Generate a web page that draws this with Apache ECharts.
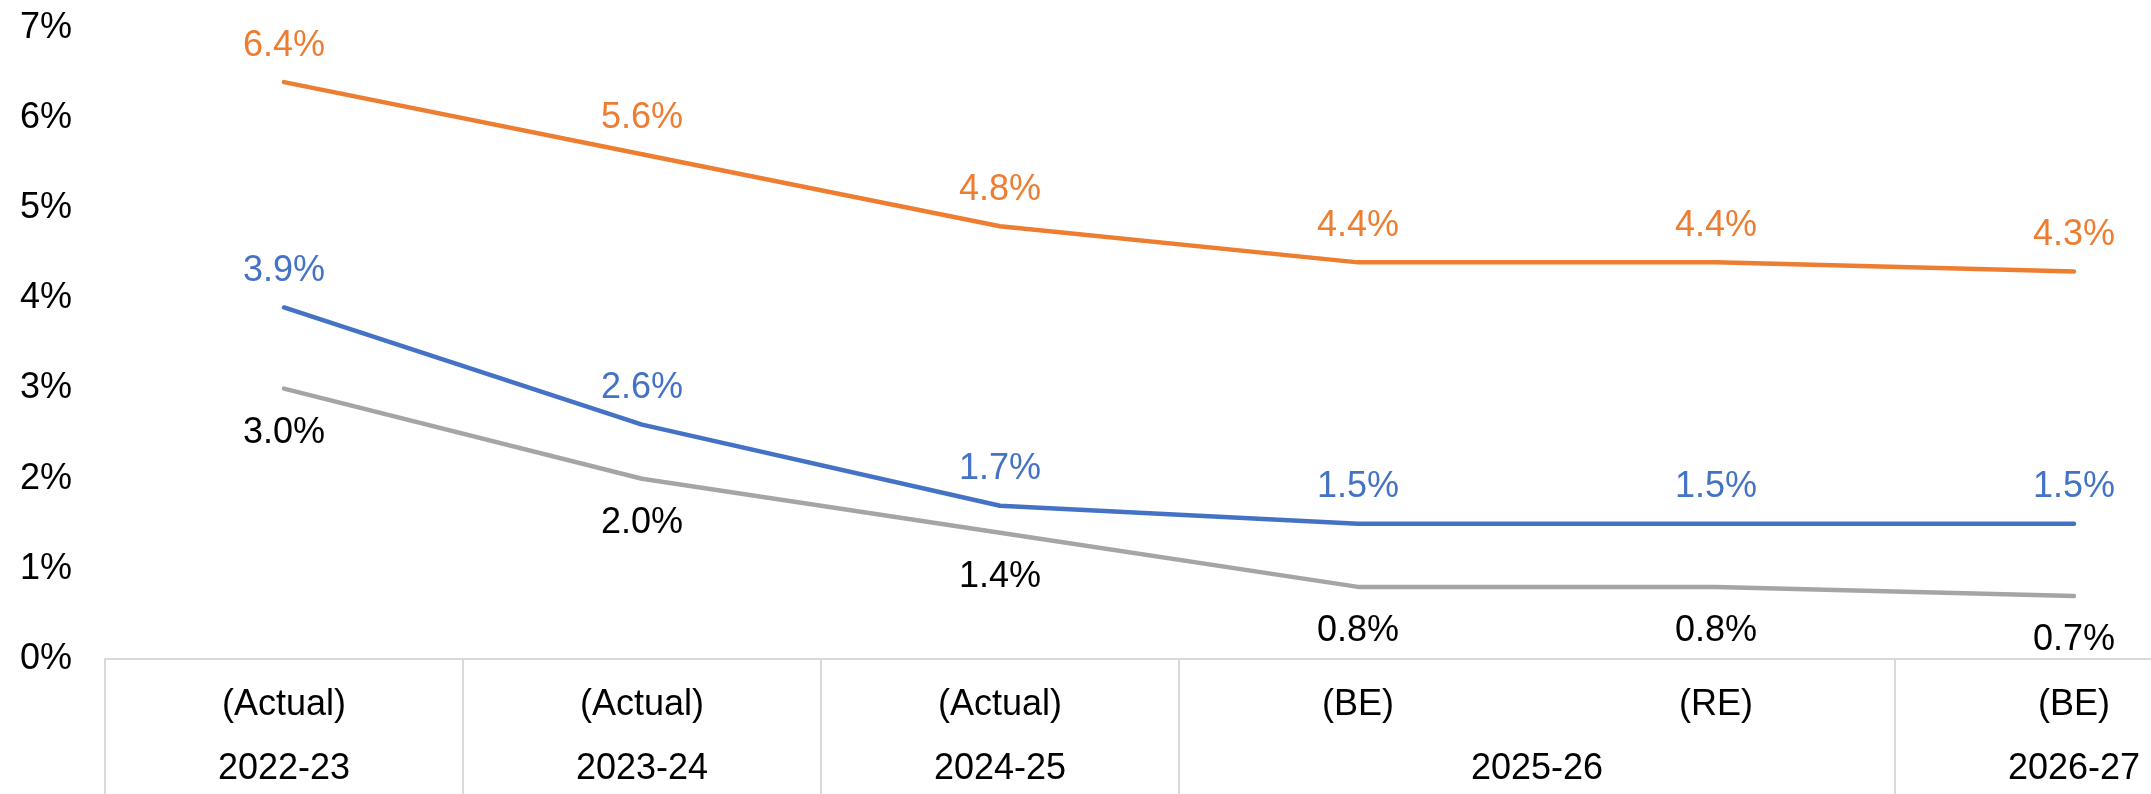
<!DOCTYPE html>
<html>
<head>
<meta charset="utf-8">
<title>Fiscal indicators</title>
<script src="https://cdn.jsdelivr.net/npm/echarts@6/dist/echarts.min.js"></script>
<style>
  html, body { margin: 0; padding: 0; background: #ffffff; overflow: hidden; width: 2151px; height: 794px; }
  /* The plot runs past the right edge of the page; the last category is cut off */
  #chart { width: 2256px; height: 794px; }
</style>
</head>
<body>
<div id="chart"></div>
<script>
// Inner category row (estimate type) and outer row (fiscal year with its span)
const stages = ['(Actual)', '(Actual)', '(Actual)', '(BE)', '(RE)', '(BE)'];
const years = ['2022-23', '2023-24', '2024-25', '2025-26', '2026-27'];
const yearSpans = [1, 1, 1, 2, 1];

// Series values, in percent
const orangeValues = [6.4, 5.6, 4.8, 4.4, 4.4, 4.3];
const blueValues = [3.9, 2.6, 1.7, 1.5, 1.5, 1.5];
const greyValues = [3.0, 2.0, 1.4, 0.8, 0.8, 0.7];

// Y axis range
const yTicks = [0, 1, 2, 3, 4, 5, 6, 7];

// Build the year row on a half-category grid so a year spanning two
// categories is centred between them; group edges become divider ticks.
const halfSlots = stages.length * 2 + 1;
const yearRow = new Array(halfSlots).fill('');
const dividerIdx = new Set([0]);
let pos = 0;
years.forEach((y, i) => {
  yearRow[pos + yearSpans[i]] = y;
  pos += yearSpans[i] * 2;
  dividerIdx.add(pos);
});

const FONT = 'Liberation Sans, Arial, sans-serif';
const FS = 36;

const chart = echarts.init(document.getElementById('chart'), null, { renderer: 'canvas' });

function lineSeries(values, color, labelPos, labelColor, dist) {
  return {
    type: 'line',
    data: values,
    xAxisIndex: 0,
    symbol: 'circle',
    symbolSize: 1,
    itemStyle: { color: color },
    lineStyle: { color: color, width: 4.5, cap: 'round', join: 'round' },
    label: {
      show: true,
      position: labelPos,
      distance: dist,
      color: labelColor,
      fontFamily: FONT,
      fontSize: FS,
      formatter: p => p.value.toFixed(1) + '%'
    },
    emphasis: { disabled: true },
    silent: true
  };
}

chart.setOption({
  animation: false,
  backgroundColor: '#ffffff',
  grid: { left: 105, right: 0, top: 28, height: 631, containLabel: false },
  xAxis: [
    {
      type: 'category',
      data: stages,
      position: 'bottom',
      boundaryGap: true,
      axisLine: { show: false },
      axisTick: { show: false },
      axisLabel: {
        interval: 0,
        margin: 28,
        color: '#000000',
        fontFamily: FONT,
        fontSize: FS
      },
      splitLine: { show: false }
    },
    {
      type: 'category',
      data: yearRow,
      position: 'bottom',
      boundaryGap: false,
      axisLine: { show: true, onZero: false, lineStyle: { color: '#d9d9d9', width: 2 } },
      axisTick: {
        show: true,
        inside: false,
        length: 140,
        interval: (idx) => dividerIdx.has(idx),
        lineStyle: { color: '#d9d9d9', width: 2 }
      },
      axisLabel: {
        interval: 0,
        margin: 92,
        color: '#000000',
        fontFamily: FONT,
        fontSize: FS
      },
      splitLine: { show: false }
    }
  ],
  yAxis: {
    type: 'value',
    min: yTicks[0],
    max: yTicks[yTicks.length - 1],
    interval: 1,
    axisLine: { show: false },
    axisTick: { show: false },
    splitLine: { show: false },
    axisLabel: {
      margin: 33,
      color: '#000000',
      fontFamily: FONT,
      fontSize: FS,
      formatter: '{value}%'
    }
  },
  series: [
    lineSeries(orangeValues, '#ED7D31', 'top', '#ED7D31', 18),
    lineSeries(blueValues, '#4472C4', 'top', '#4472C4', 18),
    lineSeries(greyValues, '#A5A5A5', 'bottom', '#000000', 26)
  ]
});
</script>
</body>
</html>
